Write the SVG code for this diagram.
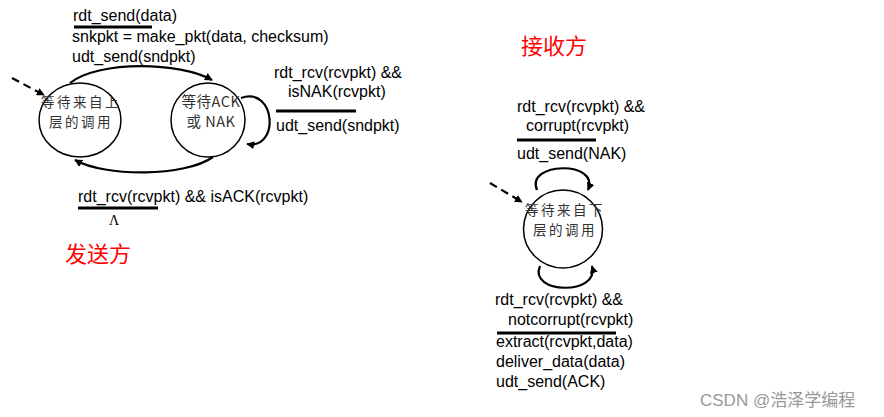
<svg xmlns="http://www.w3.org/2000/svg" width="884" height="417" viewBox="0 0 884 417">
<style>
.t{font-family:"Liberation Sans",Arial,sans-serif;font-size:16px;fill:#000}
.c{font-family:"Noto Sans CJK SC",sans-serif;font-size:13.5px;letter-spacing:2.5px;fill:#333}
.r{font-family:"Noto Sans CJK SC",sans-serif;font-size:22px;fill:#f00}
.st{fill:#fff;stroke:#000;stroke-width:1.5}
.e{fill:none;stroke:#000;stroke-width:2.2;marker-end:url(#ah)}
.d{fill:none;stroke:#000;stroke-width:2.2;stroke-dasharray:8,5;marker-end:url(#ah)}
.u{stroke:#000;stroke-width:3}
</style>
<defs>
<marker id="ah" viewBox="0 0 10 10" refX="9" refY="5" markerWidth="3.6" markerHeight="3.6" orient="auto" markerUnits="strokeWidth">
<path d="M0,0 L10,5 L0,10 z" fill="#000"/>
</marker>
</defs>
<rect width="884" height="417" fill="#fff"/>
<g id="connectors">
<path class="e" d="M70,83 C100,60 180,62 212,80"/>
<path class="e" d="M213,157 C185,177 105,177 75,160"/>
<path class="e" d="M241,98 C276,86 280,150 247,144"/>
<path class="d" d="M12,78 L44,95"/>
<path class="e" d="M537,190 C525,162 600,160 588,190"/>
<path class="e" d="M540,266 C528,294 600,296 592,266"/>
<path class="d" d="M490,183 L522,202"/>
</g>
<g id="s-wait-above">
<ellipse class="st" cx="80" cy="120" rx="41" ry="37"/>
<text class="c" x="81" y="107" text-anchor="middle">等待来自上</text>
<text class="c" x="81" y="127" text-anchor="middle">层的调用</text>
</g>
<g id="s-wait-ack">
<ellipse class="st" cx="208" cy="120" rx="37" ry="37"/>
<text class="c" x="211" y="107" text-anchor="middle" style="letter-spacing:0.5px;font-size:14.5px">等待ACK</text>
<text class="c" x="211" y="127" text-anchor="middle" style="letter-spacing:0.5px;font-size:14.5px">或 NAK</text>
</g>
<g id="r-wait-below">
<ellipse class="st" cx="563" cy="229" rx="39.5" ry="39"/>
<text class="c" x="565" y="215" text-anchor="middle">等待来自下</text>
<text class="c" x="565" y="235" text-anchor="middle">层的调用</text>
</g>
<g id="labels">
<text class="t" x="73" y="21">rdt_send(data)</text>
<line class="u" x1="74" y1="27" x2="152" y2="27"/>
<text class="t" x="72" y="42">snkpkt = make_pkt(data, checksum)</text>
<text class="t" x="72" y="62">udt_send(sndpkt)</text>
<text class="t" x="274" y="78">rdt_rcv(rcvpkt) &amp;&amp;</text>
<text class="t" x="288" y="97">isNAK(rcvpkt)</text>
<line class="u" x1="276" y1="111" x2="356" y2="111"/>
<text class="t" x="276" y="131">udt_send(sndpkt)</text>
<text class="t" x="78" y="202">rdt_rcv(rcvpkt) &amp;&amp; isACK(rcvpkt)</text>
<line class="u" x1="78" y1="208" x2="158" y2="208"/>
<text x="109" y="225" style="font-family:'Liberation Serif',serif;font-size:14px">Λ</text>
<text class="r" x="65" y="262">发送方</text>
<text class="r" x="521" y="54">接收方</text>
<text class="t" x="517" y="112">rdt_rcv(rcvpkt) &amp;&amp;</text>
<text class="t" x="526" y="131">corrupt(rcvpkt)</text>
<line class="u" x1="517" y1="140" x2="596" y2="140"/>
<text class="t" x="517" y="159">udt_send(NAK)</text>
<text class="t" x="495" y="305">rdt_rcv(rcvpkt) &amp;&amp;</text>
<text class="t" x="508" y="325">notcorrupt(rcvpkt)</text>
<line class="u" x1="497" y1="333" x2="616" y2="333"/>
<text class="t" x="496" y="347">extract(rcvpkt,data)</text>
<text class="t" x="496" y="367">deliver_data(data)</text>
<text class="t" x="496" y="387">udt_send(ACK)</text>
<text x="700" y="406" style="font-family:'Liberation Sans','Noto Sans CJK SC',sans-serif;font-size:17px;fill:#999">CSDN @浩泽学编程</text>
</g>
</svg>
